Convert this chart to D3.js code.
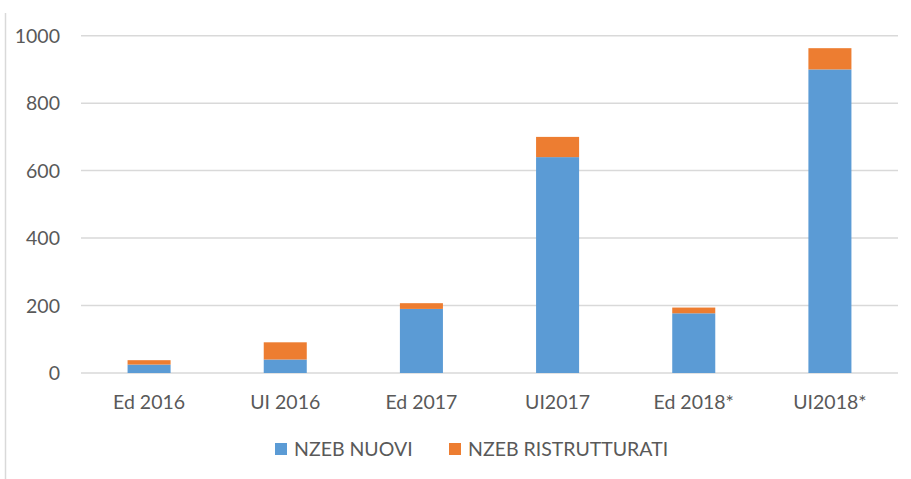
<!DOCTYPE html>
<html>
<head>
<meta charset="utf-8">
<script src="https://cdn.jsdelivr.net/npm/d3@7"></script>
<style>
  body { margin: 0; background: #fff; }
  text { font-family: Lato, "Open Sans", sans-serif; fill: #595959; }
</style>
</head>
<body>
<svg id="chart" width="911" height="479"></svg>
<script>
var categories = ["Ed 2016", "UI 2016", "Ed 2017", "UI2017", "Ed 2018*", "UI2018*"];
var nuovi = [25, 40, 190, 640, 177, 900];
var ristrutturati = [13, 51, 17, 60, 17, 63];
var yTicks = [0, 200, 400, 600, 800, 1000];
var seriesNames = ["NZEB NUOVI", "NZEB RISTRUTTURATI"];
var seriesColors = ["#5b9bd5", "#ed7d31"];

var svg = d3.select("#chart");
var margin = {left: 81, right: 13, top: 35.7, bottom: 106};
var width = 911 - margin.left - margin.right;
var height = 479 - margin.top - margin.bottom;

// outer frame line on the left
svg.append("line").attr("x1", 5.5).attr("x2", 5.5).attr("y1", 13).attr("y2", 479)
  .attr("stroke", "#d9d9d9").attr("stroke-width", 1.5);

var g = svg.append("g").attr("transform", "translate(" + margin.left + "," + margin.top + ")");

var x = d3.scaleBand().domain(categories).range([0, width]).paddingInner(0.684).paddingOuter(0.342);
var y = d3.scaleLinear().domain([0, 1000]).range([height, 0]);

// gridlines
g.selectAll(".grid").data(yTicks).enter().append("line")
  .attr("x1", 0).attr("x2", width)
  .attr("y1", function(d) { return y(d); }).attr("y2", function(d) { return y(d); })
  .attr("stroke", "#d9d9d9").attr("stroke-width", 1.5);

// y axis labels
var yAxis = d3.axisLeft(y).tickValues(yTicks).tickSize(0).tickPadding(21).tickFormat(d3.format("d"));
var ya = g.append("g").call(yAxis);
ya.select(".domain").remove();
ya.selectAll("text").style("font-size", "19.5px").attr("fill", "#595959").attr("dy", "0.35em");

// stacked bars
var rows = categories.map(function(c, i) {
  return {cat: c, nuovi: nuovi[i], ristrutturati: ristrutturati[i]};
});
var stack = d3.stack().keys(["nuovi", "ristrutturati"])(rows);

g.selectAll(".series").data(stack).enter().append("g")
  .attr("fill", function(d, i) { return seriesColors[i]; })
  .selectAll("rect").data(function(d) { return d; }).enter().append("rect")
  .attr("x", function(d) { return x(d.data.cat); })
  .attr("width", x.bandwidth())
  .attr("y", function(d) { return y(d[1]); })
  .attr("height", function(d) { return y(d[0]) - y(d[1]); });

// x axis labels
var xAxis = d3.axisBottom(x).tickSize(0).tickPadding(22);
var xa = g.append("g").attr("transform", "translate(0," + height + ")").call(xAxis);
xa.select(".domain").remove();
xa.selectAll("text").style("font-size", "19.5px").attr("fill", "#595959");
svg.selectAll(".tick").each(function() { d3.select(this.parentNode).attr("font-family", null); });

// legend
var legendX = [275, 449];
var legend = svg.selectAll(".legend").data(seriesNames).enter().append("g")
  .attr("transform", function(d, i) { return "translate(" + legendX[i] + ",443)"; });
legend.append("rect").attr("width", 12).attr("height", 12)
  .attr("fill", function(d, i) { return seriesColors[i]; });
legend.append("text").attr("x", 19).attr("y", 6).attr("dy", "0.35em")
  .style("font-size", "19.5px").text(function(d) { return d; });
</script>
</body>
</html>
